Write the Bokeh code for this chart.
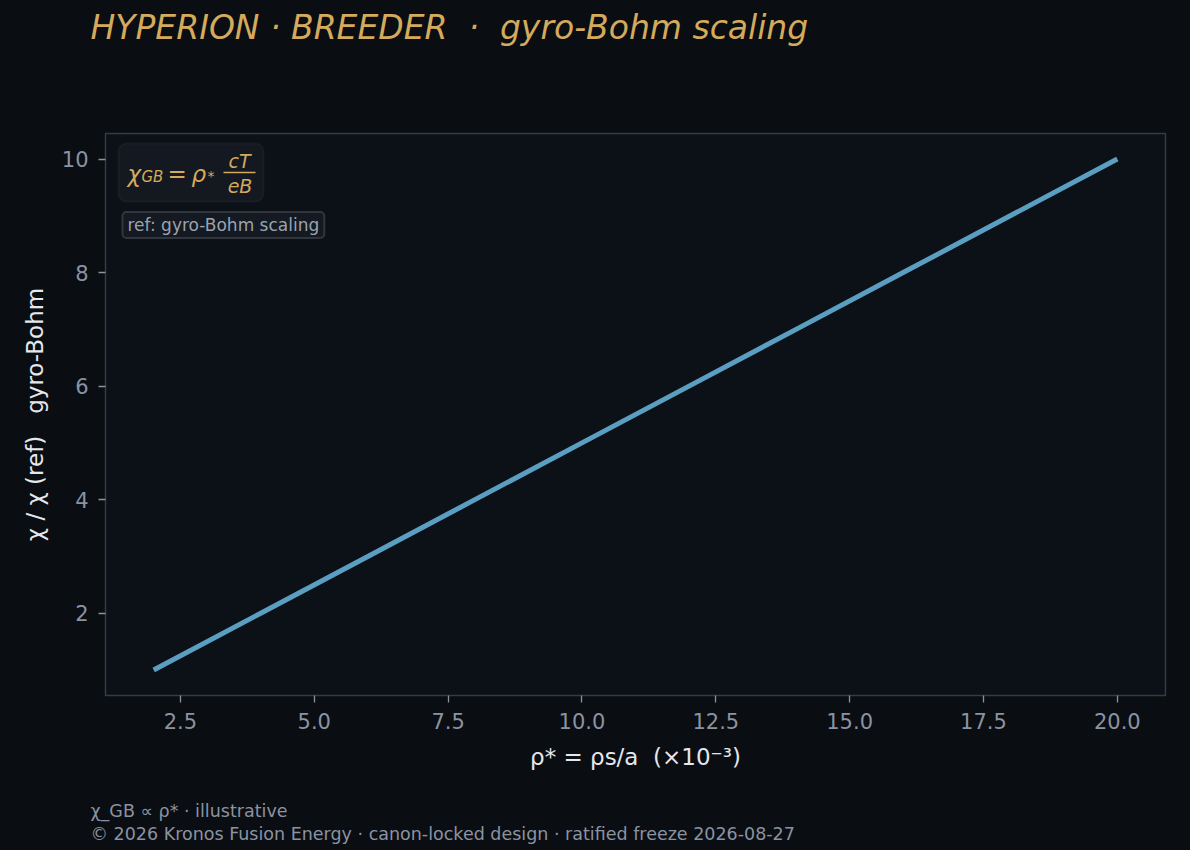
from bokeh.plotting import figure
from bokeh.models import Range1d, Label, BoxAnnotation, FixedTicker, Title
from bokeh.embed import file_html
from bokeh.resources import INLINE

# ---- data ----
rho_star = [2.0, 4.0, 6.0, 8.0, 10.0, 12.0, 14.0, 16.0, 18.0, 20.0]
chi_ratio = [1.0, 2.0, 3.0, 4.0, 5.0, 6.0, 7.0, 8.0, 9.0, 10.0]
x_ticks = [2.5, 5.0, 7.5, 10.0, 12.5, 15.0, 17.5, 20.0]
y_ticks = [2, 4, 6, 8, 10]
x_tick_labels = ["2.5", "5.0", "7.5", "10.0", "12.5", "15.0", "17.5", "20.0"]
y_tick_labels = ["2", "4", "6", "8", "10"]

NB = "\u00a0"
title_text = "HYPERION · BREEDER " + NB + "· " + NB + "gyro-Bohm scaling"
x_label = "ρ* = ρs/a " + NB + "(×10⁻³)"
y_label = "χ / χ (ref) " + NB + " gyro-Bohm"
ref_text = "ref: gyro-Bohm scaling"
foot1 = "χ_GB ∝ ρ* · illustrative"
foot2 = "© 2026 Kronos Fusion Energy · canon-locked design · ratified freeze 2026-08-27"

PAGE_BG = "#0a0d11"
PLOT_BG = "#0c1017"
GOLD = "#d4aa5c"
TICK_C = "#8a93a2"
LABEL_C = "#e4e7ec"
SPINE = "#353a43"
LINE_C = "#5a9fc2"
FONT = "DejaVu Sans"

p = figure(width=1190, height=850, output_backend="svg", toolbar_location=None,
           x_range=Range1d(1.1, 20.9), y_range=Range1d(0.55, 10.45),
           min_border_left=105, min_border_right=25, min_border_top=133, min_border_bottom=155)
p.background_fill_color = PLOT_BG
p.border_fill_color = PAGE_BG
p.outline_line_color = SPINE
p.outline_line_width = 1.5
p.grid.visible = False

p.line(rho_star, chi_ratio, line_color=LINE_C, line_width=5)

for ax, ticks, labs in ((p.xaxis[0], x_ticks, x_tick_labels), (p.yaxis[0], y_ticks, y_tick_labels)):
    ax.ticker = FixedTicker(ticks=ticks)
    ax.major_label_overrides = {t: l for t, l in zip(ticks, labs)}
    ax.axis_line_color = None
    ax.major_tick_line_color = TICK_C
    ax.major_tick_line_width = 1.3
    ax.major_tick_out = 7
    ax.major_tick_in = 0
    ax.minor_tick_line_color = None
    ax.major_label_text_color = TICK_C
    ax.major_label_text_font = FONT
    ax.major_label_text_font_size = "21px"
    ax.major_label_standoff = 10
    ax.axis_label_text_color = LABEL_C
    ax.axis_label_text_font = FONT
    ax.axis_label_text_font_size = "23px"
    ax.axis_label_text_font_style = "normal"

p.xaxis[0].axis_label = x_label
p.xaxis[0].axis_label_standoff = 12
p.yaxis[0].axis_label = y_label
p.yaxis[0].axis_label_standoff = 11

# ---- title ----
p.title.text = title_text
p.title.align = "left"
p.title.offset = -15
p.title.standoff = 0
p.title.text_font = FONT
p.title.text_font_size = "33px"
p.title.text_font_style = "italic"
p.title.text_color = GOLD
p.title.padding = dict(left=0, right=0, top=0, bottom=87)

# ---- footer ----
p.add_layout(Title(text=foot1, align="left", offset=-15, standoff=0,
                   padding=dict(left=0, right=0, top=26, bottom=0),
                   text_font=FONT, text_font_size="17.5px", text_font_style="normal",
                   text_color=TICK_C), "below")
p.add_layout(Title(text=foot2, align="left", offset=-15, standoff=0,
                   padding=dict(left=0, right=0, top=1, bottom=0),
                   text_font=FONT, text_font_size="17.5px", text_font_style="normal",
                   text_color=TICK_C), "below")

# frame-relative screen coords (reference image coords -> frame screen units)
FL, FB = 105, 695
def sx(x): return x - FL
def sy(y): return FB - y
DY = 7  # alphabetic-baseline correction

def lab(text, x, y, size, color, style="normal", align="left", baseline="alphabetic", **kw):
    yy = sy(y) + (DY if baseline == "alphabetic" else 0)
    l = Label(text=text, x=sx(x), y=yy, x_units="screen", y_units="screen",
              text_font=FONT, text_font_size=size, text_color=color, text_font_style=style,
              text_align=align, text_baseline=baseline, **kw)
    p.add_layout(l)
    return l

# formula box
p.add_layout(BoxAnnotation(left=sx(118), right=sx(263), top=sy(143), bottom=sy(201),
                           left_units="screen", right_units="screen", top_units="screen", bottom_units="screen",
                           fill_color="#141820", fill_alpha=1.0, line_color="#2e323b", line_width=2,
                           border_radius=8))
lab("χ", 127, 180, "23px", GOLD, style="italic")
lab("GB", 141, 183, "15px", GOLD, style="italic")
lab("=", 167, 180, "23px", GOLD)
lab("ρ", 191, 180, "23px", GOLD, style="italic")
lab("*", 207, 182, "14px", GOLD)
lab("cT", 239, 167, "19px", GOLD, style="italic", align="center")
lab("eB", 239.5, 192, "19px", GOLD, style="italic", align="center")
p.add_layout(BoxAnnotation(left=sx(223), right=sx(255), top=sy(171.3), bottom=sy(172.8),
                           left_units="screen", right_units="screen", top_units="screen", bottom_units="screen",
                           fill_color=GOLD, fill_alpha=1.0, line_color=None))

# ref box
lab(ref_text, 122, 224.5, "17px", "#9aa3b0", baseline="middle",
    background_fill_color="#141922", border_line_color="#30353e", border_line_width=2,
    padding=dict(left=5, right=5, top=3, bottom=3), border_radius=4)

html = file_html(p, INLINE)
html = html.replace("<head>", "<head><style>body{background:%s;}</style>" % PAGE_BG, 1)
open("out.html", "w").write(html)
